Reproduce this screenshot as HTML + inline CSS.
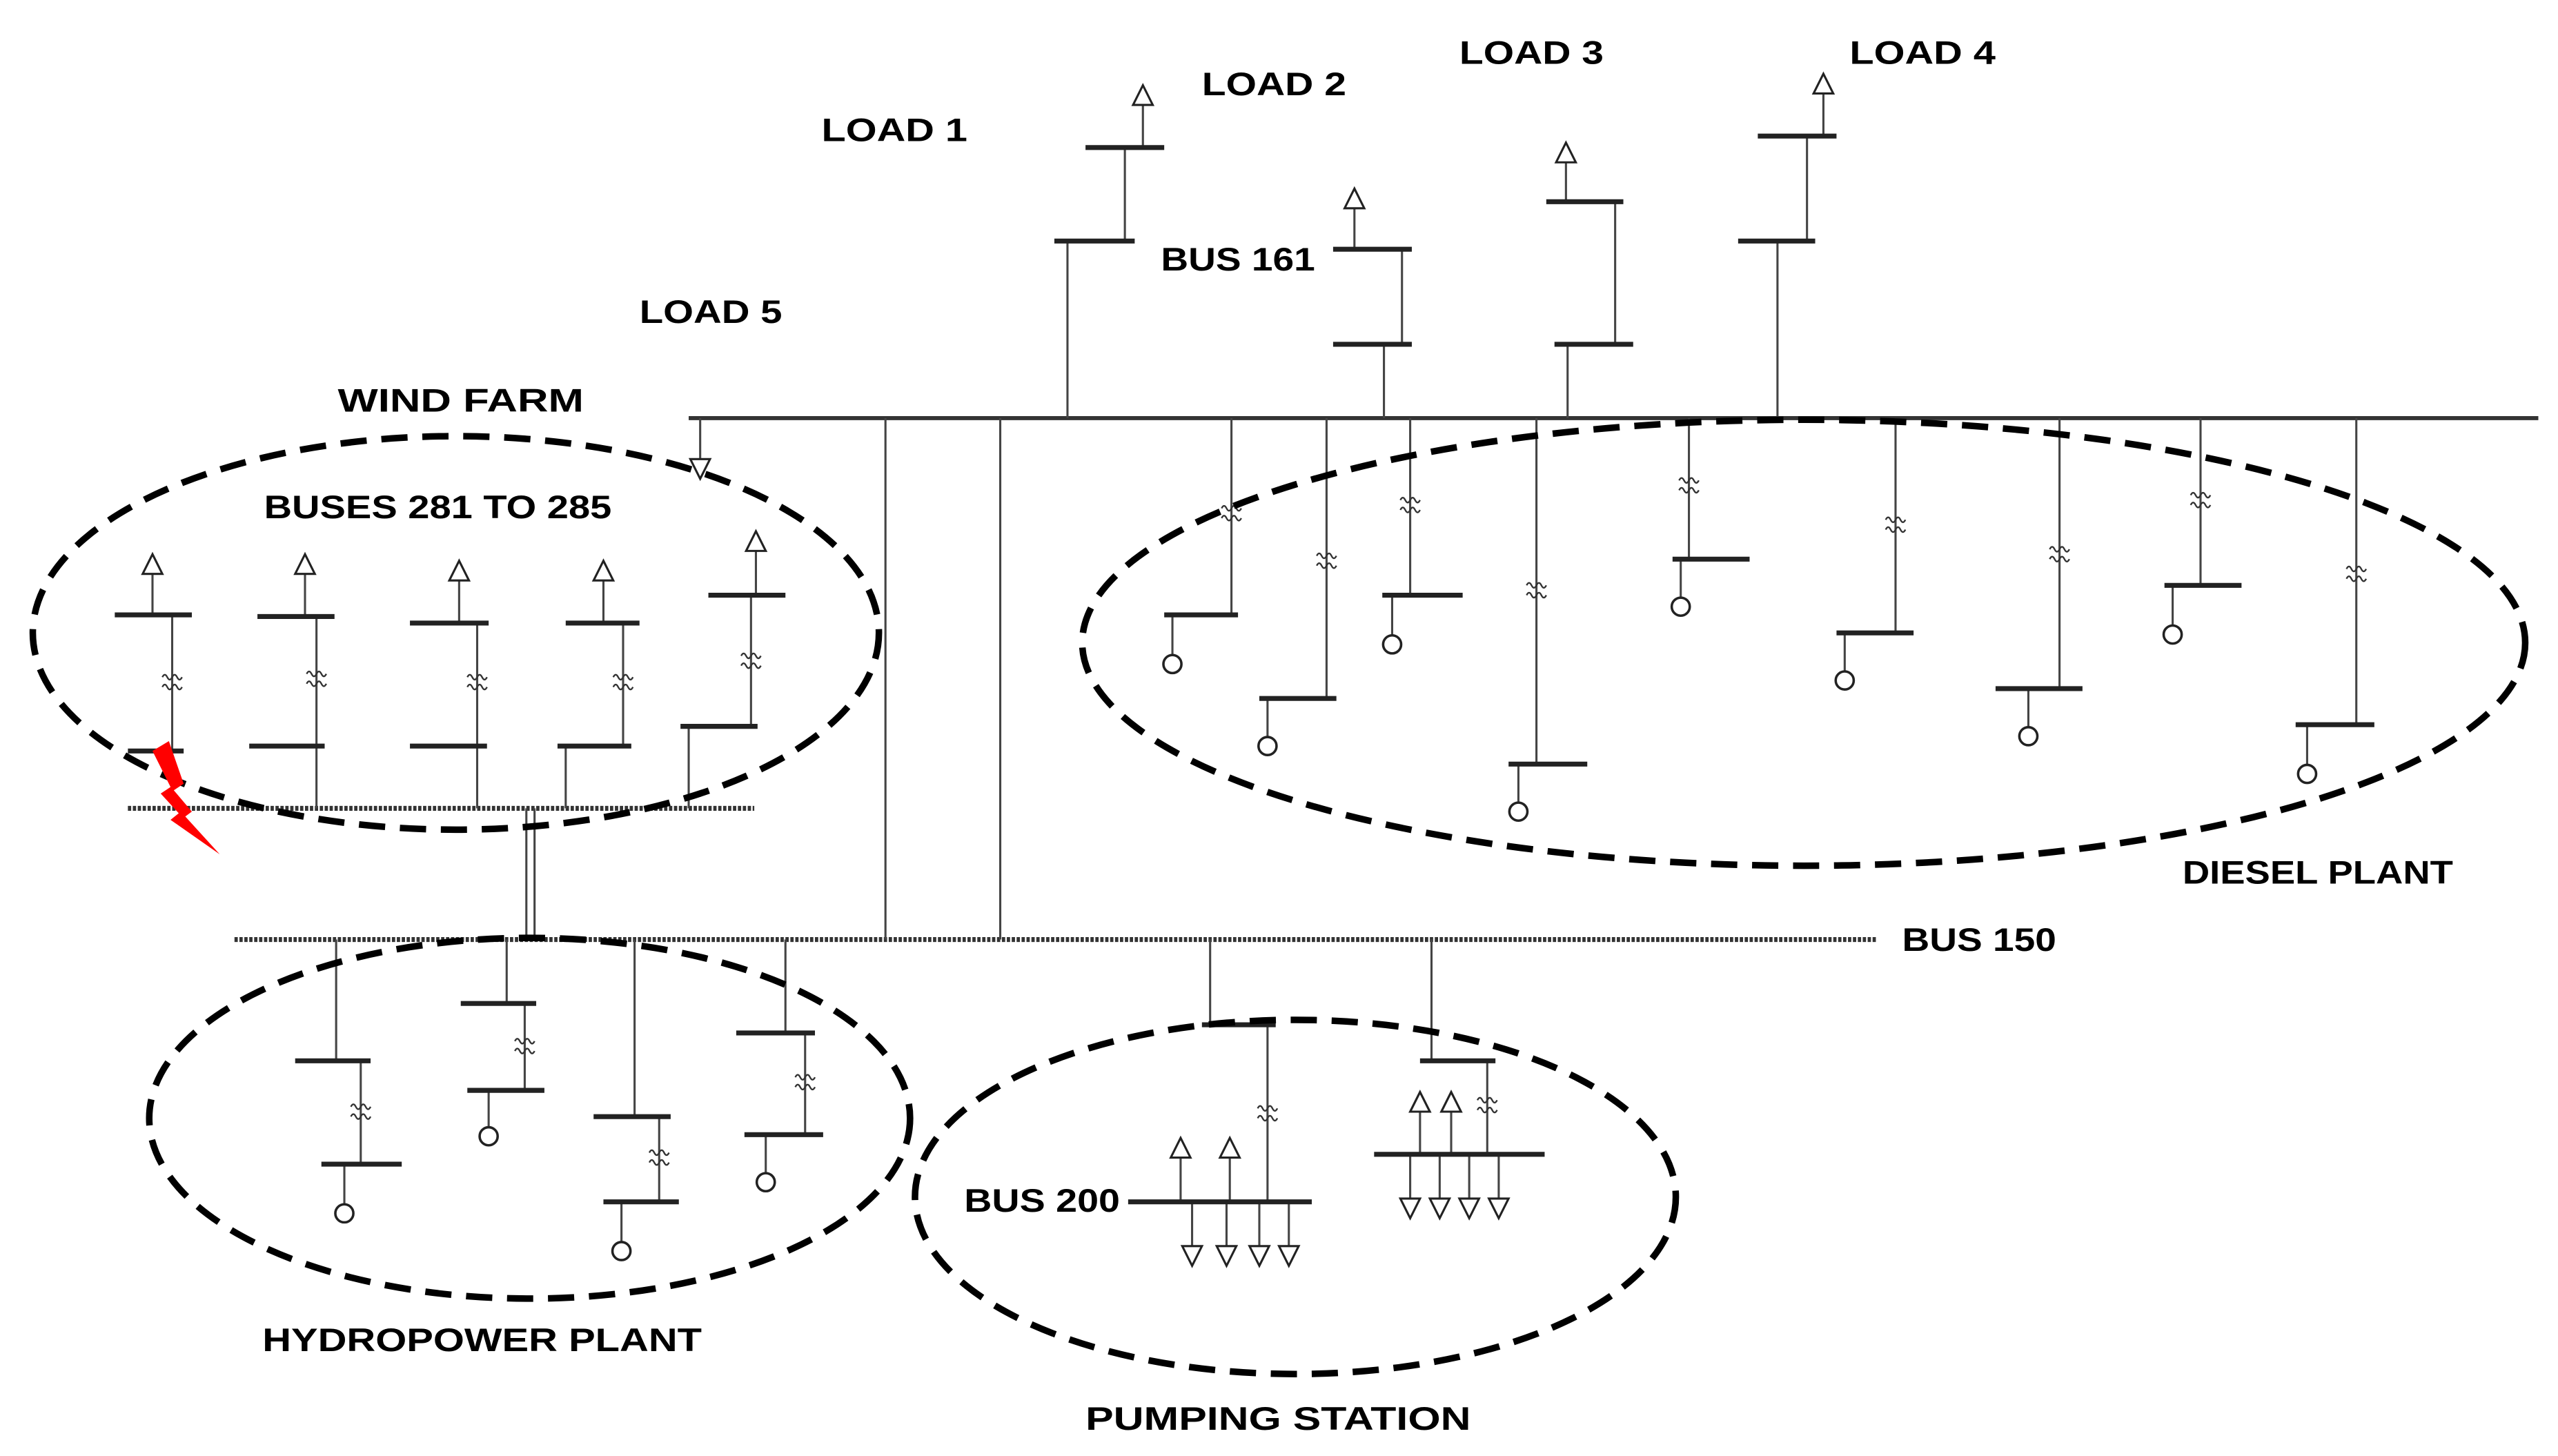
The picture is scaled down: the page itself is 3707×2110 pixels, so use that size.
<!DOCTYPE html>
<html><head><meta charset="utf-8"><style>
html,body{margin:0;padding:0;background:#fff;}
svg{display:block;}
text{font-family:"Liberation Sans",Arial,sans-serif;font-weight:bold;fill:#000;}
</style></head><body>
<svg width="3707" height="2110" viewBox="0 0 1560 888" preserveAspectRatio="none" xmlns="http://www.w3.org/2000/svg">
<defs>
<path id="tu" d="M0 0 L-6 12 L6 12 Z" fill="#fff" stroke="#222" stroke-width="1.3"/>
<path id="td" d="M0 0 L-6 -12 L6 -12 Z" fill="#fff" stroke="#222" stroke-width="1.3"/>
<path id="brk" d="M-6 -3 q1.5 -3 3 0 t3 0 t3 0 t3 0 M-6 3 q1.5 -3 3 0 t3 0 t3 0 t3 0" fill="none" stroke="#333" stroke-width="1"/>
<circle id="gen" cx="0" cy="0" r="5.5" fill="#fff" stroke="#222" stroke-width="1.5"/>
</defs>
<g stroke="#444" stroke-width="1.3" fill="none">
<line x1="420" y1="255" x2="1548" y2="255" stroke="#333" stroke-width="2.5"/>
<line x1="143" y1="573" x2="1145" y2="573" stroke="#333" stroke-width="3" stroke-dasharray="2 1"/>
<line x1="78" y1="493" x2="460" y2="493" stroke="#333" stroke-width="3" stroke-dasharray="2 1"/>
<line x1="540" y1="255" x2="540" y2="573"/>
<line x1="610" y1="255" x2="610" y2="573"/>
<line x1="321" y1="493" x2="321" y2="573"/>
<line x1="326" y1="493" x2="326" y2="573"/>
<line x1="427" y1="255" x2="427" y2="290"/>
<line x1="651" y1="255" x2="651" y2="147"/><line x1="686" y1="147" x2="686" y2="90"/><line x1="697" y1="90" x2="697" y2="55"/>
<line x1="844" y1="255" x2="844" y2="210"/><line x1="855" y1="210" x2="855" y2="152"/><line x1="826" y1="152" x2="826" y2="118"/>
<line x1="956" y1="255" x2="956" y2="210"/><line x1="985" y1="210" x2="985" y2="123"/><line x1="955" y1="123" x2="955" y2="90"/>
<line x1="1084" y1="255" x2="1084" y2="147"/><line x1="1102" y1="147" x2="1102" y2="83"/><line x1="1112" y1="83" x2="1112" y2="48"/>
<line x1="751" y1="255" x2="751" y2="375"/><line x1="715" y1="375" x2="715" y2="399"/>
<line x1="809" y1="255" x2="809" y2="426"/><line x1="773" y1="426" x2="773" y2="449"/>
<line x1="860" y1="255" x2="860" y2="363"/><line x1="849" y1="363" x2="849" y2="387"/>
<line x1="937" y1="255" x2="937" y2="466"/><line x1="926" y1="466" x2="926" y2="489"/>
<line x1="1030" y1="255" x2="1030" y2="341"/><line x1="1025" y1="341" x2="1025" y2="364"/>
<line x1="1156" y1="255" x2="1156" y2="386"/><line x1="1125" y1="386" x2="1125" y2="409"/>
<line x1="1256" y1="255" x2="1256" y2="420"/><line x1="1237" y1="420" x2="1237" y2="443"/>
<line x1="1342" y1="255" x2="1342" y2="357"/><line x1="1325" y1="357" x2="1325" y2="381"/>
<line x1="1437" y1="255" x2="1437" y2="442"/><line x1="1407" y1="442" x2="1407" y2="466"/>
<line x1="93" y1="350" x2="93" y2="375"/><line x1="105" y1="375" x2="105" y2="460"/>
<line x1="186" y1="350" x2="186" y2="376"/><line x1="193" y1="376" x2="193" y2="493"/>
<line x1="280" y1="354" x2="280" y2="380"/><line x1="291" y1="380" x2="291" y2="493"/>
<line x1="368" y1="354" x2="368" y2="380"/><line x1="380" y1="380" x2="380" y2="455"/><line x1="345" y1="455" x2="345" y2="493"/>
<line x1="461" y1="336" x2="461" y2="363"/><line x1="458" y1="363" x2="458" y2="443"/><line x1="420" y1="443" x2="420" y2="493"/>
<line x1="205" y1="573" x2="205" y2="647"/><line x1="220" y1="647" x2="220" y2="710"/><line x1="210" y1="710" x2="210" y2="734"/>
<line x1="309" y1="573" x2="309" y2="612"/><line x1="320" y1="612" x2="320" y2="665"/><line x1="298" y1="665" x2="298" y2="687"/>
<line x1="387" y1="573" x2="387" y2="681"/><line x1="402" y1="681" x2="402" y2="733"/><line x1="379" y1="733" x2="379" y2="757"/>
<line x1="479" y1="573" x2="479" y2="630"/><line x1="491" y1="630" x2="491" y2="692"/><line x1="467" y1="692" x2="467" y2="715"/>
<line x1="738" y1="573" x2="738" y2="625"/><line x1="773" y1="625" x2="773" y2="733"/>
<line x1="720" y1="733" x2="720" y2="705"/><line x1="750" y1="733" x2="750" y2="705"/>
<line x1="727" y1="733" x2="727" y2="760"/><line x1="748" y1="733" x2="748" y2="760"/><line x1="768" y1="733" x2="768" y2="760"/><line x1="786" y1="733" x2="786" y2="760"/>
<line x1="873" y1="573" x2="873" y2="647"/><line x1="907" y1="647" x2="907" y2="704"/>
<line x1="866" y1="704" x2="866" y2="678"/><line x1="885" y1="704" x2="885" y2="678"/>
<line x1="860" y1="704" x2="860" y2="731"/><line x1="878" y1="704" x2="878" y2="731"/><line x1="896" y1="704" x2="896" y2="731"/><line x1="914" y1="704" x2="914" y2="731"/>
</g>
<g stroke="#222" stroke-width="3">
<line x1="643" y1="147" x2="692" y2="147"/><line x1="662" y1="90" x2="710" y2="90"/>
<line x1="813" y1="210" x2="861" y2="210"/><line x1="813" y1="152" x2="861" y2="152"/>
<line x1="948" y1="210" x2="996" y2="210"/><line x1="943" y1="123" x2="990" y2="123"/>
<line x1="1060" y1="147" x2="1107" y2="147"/><line x1="1072" y1="83" x2="1120" y2="83"/>
<line x1="710" y1="375" x2="755" y2="375"/><line x1="768" y1="426" x2="815" y2="426"/><line x1="843" y1="363" x2="892" y2="363"/>
<line x1="920" y1="466" x2="968" y2="466"/><line x1="1020" y1="341" x2="1067" y2="341"/><line x1="1120" y1="386" x2="1167" y2="386"/>
<line x1="1217" y1="420" x2="1270" y2="420"/><line x1="1320" y1="357" x2="1367" y2="357"/><line x1="1400" y1="442" x2="1448" y2="442"/>
<line x1="70" y1="375" x2="117" y2="375"/><line x1="157" y1="376" x2="204" y2="376"/><line x1="250" y1="380" x2="298" y2="380"/>
<line x1="345" y1="380" x2="390" y2="380"/><line x1="432" y1="363" x2="479" y2="363"/>
<line x1="78" y1="458" x2="112" y2="458"/><line x1="152" y1="455" x2="198" y2="455"/><line x1="250" y1="455" x2="297" y2="455"/>
<line x1="340" y1="455" x2="385" y2="455"/><line x1="415" y1="443" x2="462" y2="443"/>
<line x1="180" y1="647" x2="226" y2="647"/><line x1="196" y1="710" x2="245" y2="710"/>
<line x1="281" y1="612" x2="327" y2="612"/><line x1="285" y1="665" x2="332" y2="665"/>
<line x1="362" y1="681" x2="409" y2="681"/><line x1="368" y1="733" x2="414" y2="733"/>
<line x1="449" y1="630" x2="497" y2="630"/><line x1="454" y1="692" x2="502" y2="692"/>
<line x1="733" y1="625" x2="778" y2="625"/><line x1="688" y1="733" x2="800" y2="733"/>
<line x1="866" y1="647" x2="912" y2="647"/><line x1="838" y1="704" x2="942" y2="704"/>
</g>
<use href="#td" x="427" y="292"/>
<use href="#tu" x="697" y="52"/><use href="#tu" x="826" y="115"/><use href="#tu" x="955" y="87"/><use href="#tu" x="1112" y="45"/>
<use href="#tu" x="93" y="338"/><use href="#tu" x="186" y="338"/><use href="#tu" x="280" y="342"/><use href="#tu" x="368" y="342"/><use href="#tu" x="461" y="324"/>
<use href="#tu" x="720" y="694"/><use href="#tu" x="750" y="694"/><use href="#tu" x="866" y="666"/><use href="#tu" x="885" y="666"/>
<use href="#td" x="727" y="772"/><use href="#td" x="748" y="772"/><use href="#td" x="768" y="772"/><use href="#td" x="786" y="772"/>
<use href="#td" x="860" y="743"/><use href="#td" x="878" y="743"/><use href="#td" x="896" y="743"/><use href="#td" x="914" y="743"/>
<use href="#brk" x="751" y="313"/><use href="#brk" x="809" y="342"/><use href="#brk" x="860" y="308"/><use href="#brk" x="937" y="360"/>
<use href="#brk" x="1030" y="296"/><use href="#brk" x="1156" y="320"/><use href="#brk" x="1256" y="338"/><use href="#brk" x="1342" y="305"/><use href="#brk" x="1437" y="350"/>
<use href="#brk" x="105" y="416"/><use href="#brk" x="193" y="414"/><use href="#brk" x="291" y="416"/><use href="#brk" x="380" y="416"/><use href="#brk" x="458" y="403"/>
<use href="#brk" x="220" y="678"/><use href="#brk" x="320" y="638"/><use href="#brk" x="402" y="706"/><use href="#brk" x="491" y="660"/>
<use href="#brk" x="773" y="679"/><use href="#brk" x="907" y="674"/>
<use href="#gen" x="715" y="405"/><use href="#gen" x="773" y="455"/><use href="#gen" x="849" y="393"/><use href="#gen" x="926" y="495"/>
<use href="#gen" x="1025" y="370"/><use href="#gen" x="1125" y="415"/><use href="#gen" x="1237" y="449"/><use href="#gen" x="1325" y="387"/><use href="#gen" x="1407" y="472"/>
<use href="#gen" x="210" y="740"/><use href="#gen" x="298" y="693"/><use href="#gen" x="379" y="763"/><use href="#gen" x="467" y="721"/>
<g fill="none" stroke="#000" stroke-width="4" stroke-dasharray="16 9">
<ellipse cx="278" cy="386" rx="258" ry="120"/>
<ellipse cx="1100" cy="392" rx="440" ry="136"/>
<ellipse cx="323" cy="682" rx="232" ry="110"/>
<ellipse cx="790" cy="730" rx="232" ry="108"/>
</g>
<path d="M93 458 L103 452 L112 478 L106 482 L117 495 L113 498 L134 521 L104 500 L109 496 L98 484 L104 480 Z" fill="#ff0000"/>
<g font-size="20" lengthAdjust="spacingAndGlyphs">
<text x="501" y="86" textLength="89" lengthAdjust="spacingAndGlyphs">LOAD 1</text>
<text x="733" y="58" textLength="88" lengthAdjust="spacingAndGlyphs">LOAD 2</text>
<text x="890" y="39" textLength="88" lengthAdjust="spacingAndGlyphs">LOAD 3</text>
<text x="1128" y="39" textLength="89" lengthAdjust="spacingAndGlyphs">LOAD 4</text>
<text x="390" y="197" textLength="87" lengthAdjust="spacingAndGlyphs">LOAD 5</text>
<text x="206" y="251" textLength="150" lengthAdjust="spacingAndGlyphs">WIND FARM</text>
<text x="1331" y="539" textLength="165" lengthAdjust="spacingAndGlyphs">DIESEL PLANT</text>
<text x="160" y="824" textLength="268" lengthAdjust="spacingAndGlyphs">HYDROPOWER PLANT</text>
<text x="662" y="872" textLength="235" lengthAdjust="spacingAndGlyphs">PUMPING STATION</text>
<text x="161" y="316" textLength="212" lengthAdjust="spacingAndGlyphs">BUSES 281 TO 285</text>
<text x="708" y="165" textLength="94" lengthAdjust="spacingAndGlyphs">BUS 161</text>
<text x="1160" y="580" textLength="94" lengthAdjust="spacingAndGlyphs">BUS 150</text>
<text x="588" y="739" textLength="95" lengthAdjust="spacingAndGlyphs">BUS 200</text>
</g>
</svg>
</body></html>
